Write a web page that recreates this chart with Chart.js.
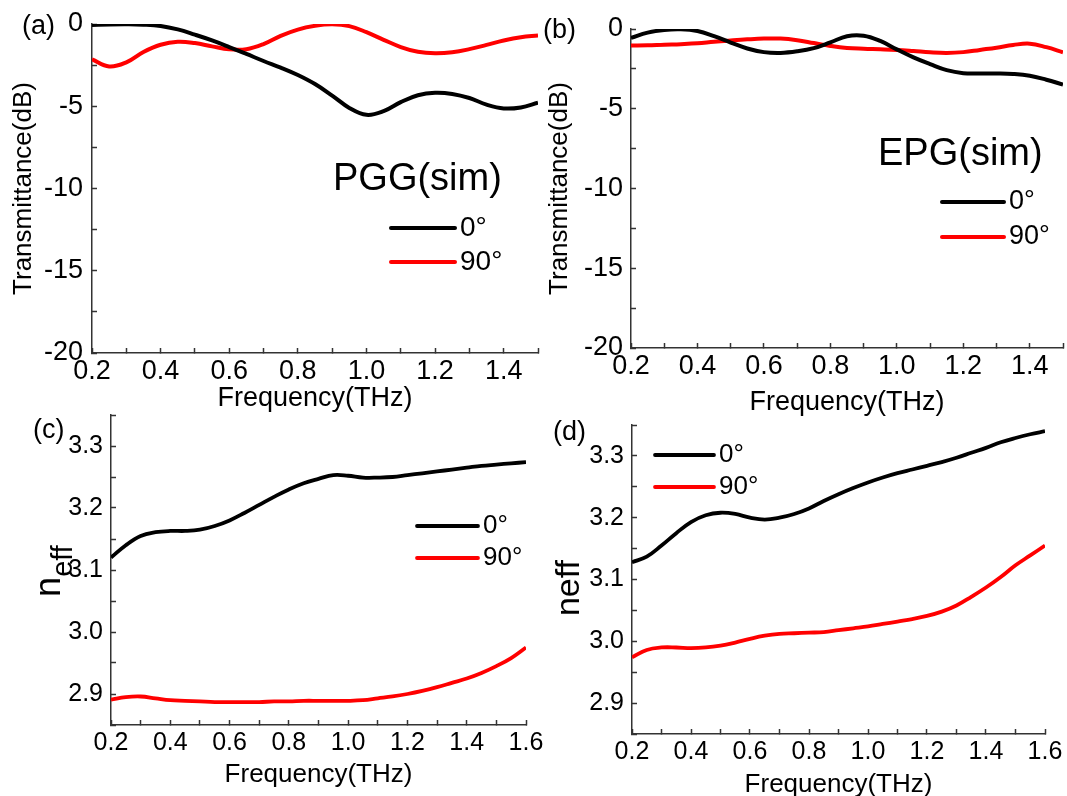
<!DOCTYPE html>
<html>
<head>
<meta charset="utf-8">
<script src="https://cdn.jsdelivr.net/npm/chart.js@4/dist/chart.umd.min.js"></script>
<style>
  body { margin: 0; width: 1067px; height: 796px; overflow: hidden; background: #fff; position: relative; }
  canvas { position: absolute; }
  .lab { position: absolute; font-family: 'Liberation Sans', Arial, sans-serif; color: #000; line-height: 1; white-space: nowrap; transform: translateY(-50%); }
  .rot { transform: translate(-50%, -50%) rotate(-90deg); }
</style>
</head>
<body>
<canvas id="chartA" width="560" height="420" style="left:0;top:0"></canvas>
<canvas id="chartB" width="537" height="420" style="left:530px;top:0"></canvas>
<canvas id="chartC" width="560" height="396" style="left:0;top:400px"></canvas>
<canvas id="chartD" width="537" height="410" style="left:530px;top:400px"></canvas>

<div class="lab" style="left:22px;top:25px;font-size:27px">(a)</div>
<div class="lab" style="left:543px;top:29px;font-size:27px">(b)</div>
<div class="lab" style="left:33px;top:429px;font-size:27px">(c)</div>
<div class="lab" style="left:553px;top:431px;font-size:27px">(d)</div>
<div class="lab" style="left:333px;top:177px;font-size:38px">PGG(sim)</div>
<div class="lab" style="left:878px;top:152px;font-size:38px">EPG(sim)</div>
<div class="lab rot" style="left:48px;top:571px;font-size:36px">n<span style="font-size:29px;position:relative;top:12px">eff</span></div>
<div class="lab rot" style="left:567px;top:588px;font-size:34px">neff</div>

<script>
// frequency samples (THz)
var freqTop = [0.2, 0.25, 0.3, 0.35, 0.4, 0.45, 0.5, 0.55, 0.6, 0.65, 0.7, 0.75, 0.8, 0.85, 0.9, 0.95,
               1.0, 1.05, 1.1, 1.15, 1.2, 1.25, 1.3, 1.35, 1.4, 1.45, 1.5];
var freqBottom = [0.2, 0.25, 0.3, 0.35, 0.4, 0.45, 0.5, 0.55, 0.6, 0.65, 0.7, 0.75, 0.8, 0.85, 0.9, 0.95,
                  1.0, 1.05, 1.1, 1.15, 1.2, 1.25, 1.3, 1.35, 1.4, 1.45, 1.5, 1.55, 1.6];

// (a) PGG transmittance, dB
var pgg0 = [-0.06, -0.03, -0.02, -0.04, -0.12, -0.33, -0.65, -1.0, -1.4, -1.82, -2.25, -2.65, -3.1, -3.65,
            -4.35, -5.1, -5.52, -5.3, -4.75, -4.33, -4.18, -4.25, -4.5, -4.9, -5.13, -5.07, -4.79];
var pgg90 = [-2.15, -2.58, -2.33, -1.7, -1.26, -1.08, -1.16, -1.36, -1.54, -1.53, -1.22, -0.72, -0.34, -0.11,
             -0.02, -0.13, -0.5, -0.96, -1.4, -1.69, -1.78, -1.72, -1.53, -1.27, -1.0, -0.8, -0.7];

// (b) EPG transmittance, dB
var epg0 = [-0.56, -0.23, -0.06, -0.02, -0.13, -0.45, -0.85, -1.22, -1.45, -1.5, -1.4, -1.2, -0.84, -0.45,
            -0.42, -0.75, -1.28, -1.78, -2.2, -2.58, -2.77, -2.79, -2.79, -2.82, -2.93, -3.18, -3.48];
var epg90 = [-1.04, -1.02, -0.98, -0.95, -0.9, -0.8, -0.72, -0.65, -0.6, -0.6, -0.7, -0.88, -1.06, -1.19,
             -1.24, -1.27, -1.31, -1.38, -1.46, -1.5, -1.45, -1.31, -1.17, -1.0, -0.92, -1.14, -1.46];

// (c) effective index, PGG
var neffC0 = [3.12, 3.14, 3.155, 3.161, 3.163, 3.163, 3.165, 3.171, 3.18, 3.192, 3.205, 3.218, 3.23, 3.24, 3.247,
              3.253, 3.252, 3.249, 3.249, 3.25, 3.253, 3.256, 3.259, 3.262, 3.265, 3.268, 3.27, 3.272, 3.274];
var neffC90 = [2.891, 2.895, 2.896, 2.893, 2.89, 2.889, 2.888, 2.887, 2.887, 2.887, 2.887, 2.888, 2.888, 2.889, 2.889,
               2.889, 2.889, 2.89, 2.893, 2.896, 2.9, 2.905, 2.911, 2.918, 2.925, 2.934, 2.945, 2.958, 2.975];

// (d) effective index, EPG
var neffD0 = [3.128, 3.137, 3.155, 3.175, 3.193, 3.204, 3.208, 3.206, 3.2, 3.197, 3.2, 3.206, 3.215, 3.227, 3.238,
              3.248, 3.257, 3.265, 3.272, 3.278, 3.284, 3.29, 3.297, 3.305, 3.313, 3.322, 3.329, 3.335, 3.34];
var neffD90 = [2.974, 2.986, 2.99, 2.99, 2.989, 2.99, 2.993, 2.998, 3.004, 3.009, 3.012, 3.013, 3.014, 3.015, 3.018,
               3.021, 3.024, 3.028, 3.032, 3.036, 3.041, 3.048, 3.058, 3.072, 3.087, 3.104, 3.123, 3.139, 3.155];

var seriesLabels = ['0°', '90°'];
var seriesColors = ['#000000', '#ff0000'];

Chart.defaults.font.family = "'Liberation Sans', Arial, sans-serif";
Chart.defaults.color = '#000';

function toPoints(xs, ys) {
    return xs.map(function(x, i) { return { x: x, y: ys[i] }; });
}

// legend drawn inside the plot: a short line and the label
var insideLegend = {
    id: 'insideLegend',
    afterDatasetsDraw: function(chart, args, opts) {
        var ctx = chart.ctx;
        ctx.save();
        ctx.font = opts.size + "px 'Liberation Sans', Arial, sans-serif";
        ctx.textBaseline = 'middle';
        ctx.fillStyle = '#000';
        chart.data.datasets.forEach(function(ds, i) {
            var y = opts.y + i * opts.rowGap;
            ctx.strokeStyle = ds.borderColor;
            ctx.lineWidth = ds.borderWidth;
            ctx.lineCap = 'round';
            ctx.beginPath();
            ctx.moveTo(opts.x, y);
            ctx.lineTo(opts.x + opts.len, y);
            ctx.stroke();
            ctx.fillText(ds.label, opts.x + opts.len + 5, y);
        });
        ctx.restore();
    }
};

function makePanel(id, p) {
    var datasets = p.series.map(function(ys, i) {
        return {
            label: seriesLabels[i],
            data: toPoints(p.freq, ys),
            borderColor: seriesColors[i],
            borderWidth: p.lineWidth,
            pointRadius: 0,
            tension: 0.4,
            capBezierPoints: false,
            fill: false
        };
    });

    var axisLook = {
        grid: { drawOnChartArea: false, tickLength: -5, tickColor: '#333', tickWidth: 1.5 },
        border: { color: '#333', width: 1.5 }
    };

    return new Chart(document.getElementById(id), {
        type: 'line',
        data: { datasets: datasets },
        plugins: [insideLegend],
        options: {
            responsive: false,
            animation: false,
            layout: { autoPadding: false, padding: { top: p.top, right: p.right, left: 0, bottom: 0 } },
            plugins: {
                legend: { display: false },
                tooltip: { enabled: false },
                insideLegend: p.legend
            },
            scales: {
                x: Object.assign({
                    type: 'linear',
                    min: p.xMin, max: p.xMax,
                    afterFit: function(s) {
                        s.height = p.xHeight;
                        s.paddingLeft = 0; s.paddingRight = 0;
                    },
                    ticks: {
                        stepSize: 0.1, autoSkip: false, maxRotation: 0,
                        font: { size: p.tickSize }, padding: p.xTickPad,
                        callback: function(v) {
                            var t = Math.round(v * 10);
                            return t % 2 === 0 ? (t / 10).toFixed(1) : '';
                        }
                    },
                    title: { display: true, text: 'Frequency(THz)', font: { size: p.xTitleSize },
                             padding: { top: 0, bottom: p.xTitlePad } }
                }, axisLook),
                y: Object.assign({
                    min: p.yMin, max: p.yMax,
                    afterFit: function(s) {
                        s.width = p.yWidth;
                        s.paddingTop = 0; s.paddingBottom = 0;
                    },
                    ticks: {
                        stepSize: p.yStep, autoSkip: false,
                        font: { size: p.tickSize }, padding: p.yTickPad,
                        callback: p.yLabel
                    },
                    title: { display: !!p.yTitle, text: p.yTitle || '', font: { size: p.yTitleSize },
                             padding: { top: p.yTitlePad, bottom: 0 } }
                }, axisLook)
            }
        }
    });
}

function dbLabel(v) {
    var t = Math.round(v * 10);
    return t % 50 === 0 ? String(t / 10) : '';
}
function neffLabel(v) {
    var t = Math.round(v * 100);
    return t % 10 === 0 ? (t / 100).toFixed(1) : '';
}

makePanel('chartA', {
    freq: freqTop, series: [pgg0, pgg90], lineWidth: 4,
    xMin: 0.2, xMax: 1.5, yMin: -20, yMax: 0, yStep: 2.5, yLabel: dbLabel,
    top: 24, right: 22, xHeight: 67, yWidth: 92,
    tickSize: 27, xTickPad: 7, yTickPad: 14,
    xTitleSize: 27, xTitlePad: 5, yTitle: 'Transmittance(dB)', yTitleSize: 26, yTitlePad: 8,
    legend: { x: 391, y: 228, rowGap: 34, len: 64, size: 28 }
});

makePanel('chartB', {
    freq: freqTop, series: [epg0, epg90], lineWidth: 4,
    xMin: 0.2, xMax: 1.5, yMin: -20, yMax: 0, yStep: 2.5, yLabel: dbLabel,
    top: 29, right: 4, xHeight: 72, yWidth: 101,
    tickSize: 27, xTickPad: 7, yTickPad: 13,
    xTitleSize: 27, xTitlePad: 1, yTitle: 'Transmittance(dB)', yTitleSize: 26, yTitlePad: 14,
    legend: { x: 412, y: 202, rowGap: 35, len: 62, size: 27 }
});

// the n_eff titles of (c) and (d) are html labels above
makePanel('chartC', {
    freq: freqBottom, series: [neffC0, neffC90], lineWidth: 3.8,
    xMin: 0.2, xMax: 1.6, yMin: 2.85, yMax: 3.35, yStep: 0.05, yLabel: neffLabel,
    top: 15, right: 34, xHeight: 71, yWidth: 111,
    tickSize: 25, xTickPad: 8, yTickPad: 13,
    xTitleSize: 26, xTitlePad: 6, yTitle: '', yTitleSize: 26, yTitlePad: 0,
    legend: { x: 417, y: 126, rowGap: 32, len: 61, size: 26 }
});

makePanel('chartD', {
    freq: freqBottom, series: [neffD0, neffD90], lineWidth: 3.8,
    xMin: 0.2, xMax: 1.6, yMin: 2.85, yMax: 3.35, yStep: 0.05, yLabel: neffLabel,
    top: 25, right: 22, xHeight: 76, yWidth: 102,
    tickSize: 25, xTickPad: 8, yTickPad: 13,
    xTitleSize: 26, xTitlePad: 10, yTitle: '', yTitleSize: 34, yTitlePad: 0,
    legend: { x: 125, y: 55, rowGap: 32, len: 59, size: 26 }
});
</script>
</body>
</html>
